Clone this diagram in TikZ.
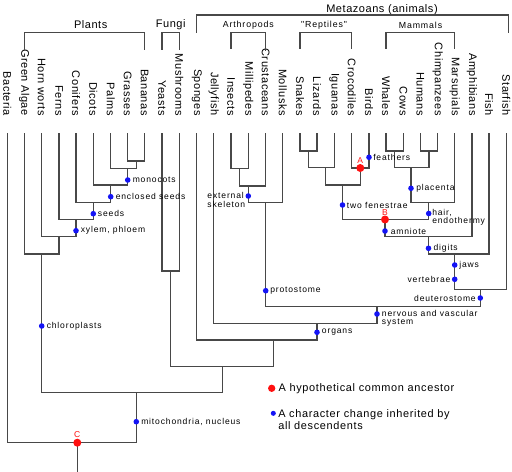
\documentclass[tikz,border=0pt]{standalone}
\usepackage{fontspec}
\setmainfont{Liberation Sans}
\newfontfamily\taxfont[LetterSpace=5]{Liberation Sans}
\newfontfamily\smallfont[LetterSpace=10]{Liberation Sans}
\newfontfamily\legfont[LetterSpace=6]{Liberation Sans}
\definecolor{linegray}{HTML}{484848}
\definecolor{dotblue}{HTML}{1414F5}
\definecolor{dotred}{HTML}{FF1010}
\begin{document}
\begin{tikzpicture}[x=0.75pt,y=-0.75pt,
  tree/.style={draw=linegray, line width=0.95pt, line cap=rect},
  taxon/.style={rotate=-90, anchor=east, inner sep=0pt, font=\taxfont\fontsize{8.25}{9}\selectfont},
  grp/.style={inner sep=0pt, font=\taxfont\fontsize{8.25}{9}\selectfont},
  subgrp/.style={inner sep=0pt, font=\smallfont\fontsize{6.6}{8}\selectfont},
  chardot/.style={circle, fill=dotblue, inner sep=0pt, minimum size=4.2pt},
  ancdot/.style={circle, fill=dotred, inner sep=0pt, minimum size=6pt},
  lab/.style={inner sep=0pt, font=\smallfont\fontsize{6.4}{6.3}\selectfont},
  redlab/.style={inner sep=0pt, text=dotred, font=\fontsize{6.4}{6.5}\selectfont},
  leg/.style={inner sep=0pt, font=\legfont\fontsize{8.2}{9.3}\selectfont}]
\useasboundingbox (0,0) rectangle (512,472);

% taxa
\foreach \i/\x/\nm in {0/7.3/Bacteria, 1/24.3/Green Algae, 2/41.7/Horn worts, 3/59/Ferns,
  4/76/Conifers, 5/93.3/Dicots, 6/110.7/Palms, 7/127.7/Grasses, 8/144.7/Bananas,
  9/162/Yeasts, 10/179.3/Mushrooms, 11/196.7/Sponges, 12/213.7/Jellyfish,
  13/231/Insects, 14/248.3/Millipedes, 15/265.7/Crustaceans, 16/282.7/Mollusks,
  17/300/Snakes, 18/317/Lizards, 19/334.3/Iguanas, 20/351.7/Crocodiles, 21/369/Birds,
  22/386/Whales, 23/403.3/Cows, 24/420.3/Humans, 25/437.7/Chimpanzees,
  26/454.7/Marsupials, 27/472/Amphibians, 28/489/Fish, 29/506.3/Starfish}{
  \node[taxon] (n\i) at (\x,116) {\nm};
  \coordinate (t\i) at (\x,134);
}

% group labels and brackets
\node[grp] (plantslab) at (90.7,25) {Plants};
\node[grp] (fungilab) at (170.7,25) {Fungi};
\node[grp] (metalab) at (382,10) {Metazoans (animals)};
\node[subgrp] (arthlab) at (248.3,25.7) {Arthropods};
\node[subgrp] (replab) at (324,25.7) {"Reptiles"};
\node[subgrp] (mamlab) at (420.5,25.7) {Mammals};
\draw[tree] (24.3,49.3) -- (24.3,32.3) -- (144.7,32.3) -- (144.7,49.3);
\draw[tree] (162,49.3) -- (162,32.3) -- (179.3,32.3) -- (179.3,49.3);
\draw[tree] (196.7,32.3) -- (196.7,15) -- (508.5,15) -- (508.5,32.3);
\draw[tree] (231,48.3) -- (231,32.3) -- (265.7,32.3) -- (265.7,50);
\draw[tree] (300,48.3) -- (300,32.3) -- (351.7,32.3) -- (351.7,48.3);
\draw[tree] (386,48.3) -- (386,32.3) -- (454.7,32.3) -- (454.7,48.3);

% junctions
\coordinate (gb) at (136.2,161);
\coordinate (pgb) at (127.7,168.3);
\coordinate (dpgb) at (110.7,185);
\coordinate (angio) at (93.3,202.3);
\coordinate (seedp) at (76,219.3);
\coordinate (vasc) at (59,236.7);
\coordinate (plants) at (41.7,254);
\coordinate (fungi) at (170.7,271);
\coordinate (ar1) at (239.6,168.3);
\coordinate (ar2) at (248.3,186);
\coordinate (proto) at (265.7,202.7);
\coordinate (sq1) at (308.5,151);
\coordinate (sq2) at (325.7,167.7);
\coordinate (jA) at (360.3,168);
\coordinate (diap) at (342.5,185);
\coordinate (m1) at (394.7,151);
\coordinate (m2) at (429,151);
\coordinate (m3) at (411,167.7);
\coordinate (mam) at (428.7,202.5);
\coordinate (jB) at (385,219.5);
\coordinate (tetra) at (428.5,236.7);
\coordinate (gnath) at (454.7,254);
\coordinate (deut) at (480.3,289.3);
\coordinate (bilat) at (377,306.5);
\coordinate (eumet) at (317,323.3);
\coordinate (metaz) at (273.7,340);
\coordinate (opist) at (222.3,366.7);
\coordinate (euk) at (136.3,392.3);
\coordinate (jC) at (77.3,442.7);
\coordinate (rootend) at (77.3,474);

% tree edges
\foreach \c/\p in {t7/gb, t8/gb, t6/pgb, gb/pgb, t5/dpgb, pgb/dpgb, t4/angio, dpgb/angio,
  t3/seedp, angio/seedp, t2/vasc, seedp/vasc, t1/plants, vasc/plants,
  t9/fungi, t10/fungi, t13/ar1, t14/ar1, ar1/ar2, t15/ar2, ar2/proto, t16/proto,
  t17/sq1, t18/sq1, sq1/sq2, t19/sq2, t20/jA, t21/jA, sq2/diap, jA/diap,
  t22/m1, t23/m1, t24/m2, t25/m2, m1/m3, m2/m3, m3/mam, t26/mam,
  diap/jB, mam/jB, jB/tetra, t27/tetra, tetra/gnath, t28/gnath, gnath/deut, t29/deut,
  proto/bilat, deut/bilat, t12/eumet, bilat/eumet, t11/metaz, eumet/metaz,
  fungi/opist, metaz/opist, plants/euk, opist/euk, t0/jC, euk/jC}{
  \draw[tree] (\c) |- (\p);
}
\draw[tree] (jC) -- (rootend);

% character changes
\node[chardot] (dmono) at (127.7,180) {};
\node[lab, anchor=west] (lmono) at (132.5,180) {monocots};
\node[chardot] (dencl) at (110.7,196.7) {};
\node[lab, anchor=west] (lencl) at (115.5,196.7) {enclosed seeds};
\node[chardot] (dseeds) at (93.3,213.7) {};
\node[lab, anchor=west] (lseeds) at (97.7,213.7) {seeds};
\node[chardot] (dxyl) at (76,230.7) {};
\node[lab, anchor=west] (lxyl) at (80.5,230.7) {xylem, phloem};
\node[chardot] (dchl) at (41.7,326) {};
\node[lab, anchor=west] (lchl) at (46.5,326) {chloroplasts};
\node[chardot] (dmito) at (136.3,421.7) {};
\node[lab, anchor=west] (lmito) at (141,421.7) {mitochondria, nucleus};
\node[chardot] (dext) at (248.3,196) {};
\node[lab, anchor=east, align=left] (lext) at (245.5,200) {external\\skeleton};
\node[chardot] (dprot) at (265.7,290.7) {};
\node[lab, anchor=west] (lprot) at (270,290.7) {protostome};
\node[chardot] (dfeat) at (369,157.3) {};
\node[lab, anchor=west] (lfeat) at (373,157.3) {feathers};
\node[chardot] (dfen) at (342.5,205) {};
\node[lab, anchor=west] (lfen) at (346.7,205) {two fenestrae};
\node[chardot] (dplac) at (411,188.3) {};
\node[lab, anchor=west] (lplac) at (416,188.3) {placenta};
\node[chardot] (dhair) at (428.7,213.5) {};
\node[lab, anchor=west, align=left] (lhair) at (432,217.2) {hair,\\endothermy};
\node[chardot] (damn) at (385,231) {};
\node[lab, anchor=west] (lamn) at (390.5,231) {amniote};
\node[chardot] (ddig) at (428.5,248.3) {};
\node[lab, anchor=west] (ldig) at (433.3,248.3) {digits};
\node[chardot] (djaw) at (454.7,265) {};
\node[lab, anchor=west] (ljaw) at (459,265) {jaws};
\node[chardot] (dvert) at (454.7,279.3) {};
\node[lab, anchor=east] (lvert) at (450.7,279.3) {vertebrae};
\node[chardot] (ddeut) at (480.3,298) {};
\node[lab, anchor=east] (ldeut) at (476,298) {deuterostome};
\node[chardot] (dnerv) at (377,314) {};
\node[lab, anchor=west, align=left] (lnerv) at (381.7,318) {nervous and vascular\\system};
\node[chardot] (dorg) at (317,332.3) {};
\node[lab, anchor=west] (lorg) at (321.7,332.3) {organs};

% ancestors
\node[ancdot] (A) at (jA) {};
\node[redlab] (lA) at (360.3,160.3) {A};
\node[ancdot] (B) at (jB) {};
\node[redlab] (lB) at (385,212.3) {B};
\node[ancdot] (C) at (jC) {};
\node[redlab] (lC) at (77.3,434.8) {C};

% legend
\node[circle, fill=dotred, inner sep=0pt, minimum size=5.5pt] (legred) at (271.7,388.3) {};
\node[leg, anchor=west] (legt1) at (278.3,388.3) {A hypothetical common ancestor};
\node[circle, fill=dotblue, inner sep=0pt, minimum size=3.8pt] (legblue) at (273.3,413.3) {};
\node[leg, anchor=west, align=left] (legt2) at (278,419.5) {A character change inherited by\\all descendents};
\end{tikzpicture}
\end{document}
